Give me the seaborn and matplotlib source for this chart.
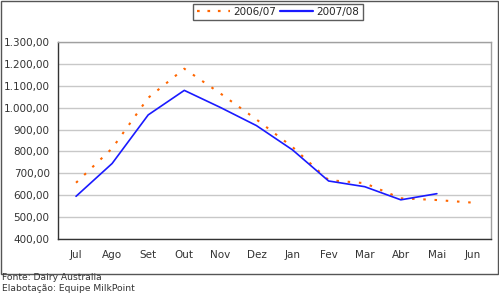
import numpy as np
import pandas as pd
import matplotlib
matplotlib.use('Agg')
import matplotlib.pyplot as plt
import seaborn as sns
from matplotlib.ticker import FuncFormatter
from matplotlib.patches import Rectangle
from matplotlib.lines import Line2D

# data
months = ['Jul', 'Ago', 'Set', 'Out', 'Nov', 'Dez', 'Jan', 'Fev', 'Mar', 'Abr', 'Mai', 'Jun']
s2006 = [657, 814, 1045, 1178, 1065, 946, 820, 669, 655, 586, 578, 566]
s2007 = [595, 745, 967, 1079, 1001, 918, 807, 665, 639, 579, 607, np.nan]

df = pd.DataFrame({
    'mes': list(range(12)) * 2,
    'valor': s2006 + s2007,
    'safra': ['2006/07'] * 12 + ['2007/08'] * 12,
})

sns.set_style('white')
plt.rcParams['font.family'] = ['DejaVu Sans']

fig = plt.figure(figsize=(4.99, 3.04), dpi=100)
ax = fig.add_axes([58 / 499, 1 - 239 / 304, 433 / 499, 197 / 304])

sns.lineplot(data=df, x='mes', y='valor', hue='safra', style='safra',
             palette={'2006/07': '#ff6600', '2007/08': '#1a1aff'},
             dashes={'2006/07': (1.2, 4.2), '2007/08': ''},
             linewidth=1.5, ax=ax, legend=False)
ax.lines[1].set_linewidth(1.2)

ax.set_xlim(-0.5, 11.5)
ax.set_ylim(400, 1300)
ax.set_yticks(np.arange(400, 1301, 100))
ax.yaxis.set_major_formatter(FuncFormatter(
    lambda v, p: '{:,.2f}'.format(v).replace(',', 'X').replace('.', ',').replace('X', '.')))
ax.set_xticks(np.arange(12))
ax.set_xticklabels(months)
ax.set_xticks(np.arange(-0.5, 12, 1), minor=True)
ax.tick_params(axis='x', which='major', length=0, pad=8, labelsize=7.5, colors='#333333')
ax.tick_params(axis='x', which='minor', length=4, color='#333333', direction='out')
ax.tick_params(axis='y', length=4, direction='out', labelsize=7.5,
               colors='#333333', pad=2)
ax.set_xlabel('')
ax.set_ylabel('')
ax.grid(axis='y', color='#c8c8c8', linewidth=1)
for side in ['top', 'right']:
    ax.spines[side].set_color('#a0a0a0')
    ax.spines[side].set_linewidth(1)
for side in ['left', 'bottom']:
    ax.spines[side].set_color('#333333')
    ax.spines[side].set_linewidth(1)

# legend
handles = [Line2D([], [], color='#ff6600', linestyle=(0, (1.2, 3.5)), linewidth=1.6),
           Line2D([], [], color='#1a1aff', linewidth=1.6)]
leg = fig.legend(handles, ['2006/07', '2007/08'], ncol=2, loc='center',
                 bbox_to_anchor=(278 / 499, 1 - 12 / 304), frameon=True, fancybox=False,
                 fontsize=7.5, handlelength=3.2, columnspacing=0.4, handletextpad=0.3,
                 borderpad=0.3, edgecolor='#333333')
leg.get_frame().set_linewidth(1)

# outer frame
fig.patches.append(Rectangle((0.5 / 499, 1 - 274 / 304), 497.5 / 499, 273.5 / 304,
                             transform=fig.transFigure, fill=False,
                             edgecolor='#555555', linewidth=1))

fig.text(2 / 499, 1 - 277.5 / 304, 'Fonte: Dairy Australia', fontsize=6.6,
         color='#333333', va='center')
fig.text(2 / 499, 1 - 288.5 / 304, 'Elabotação: Equipe MilkPoint', fontsize=6.6,
         color='#333333', va='center')

fig.savefig('out.png', dpi=100)
